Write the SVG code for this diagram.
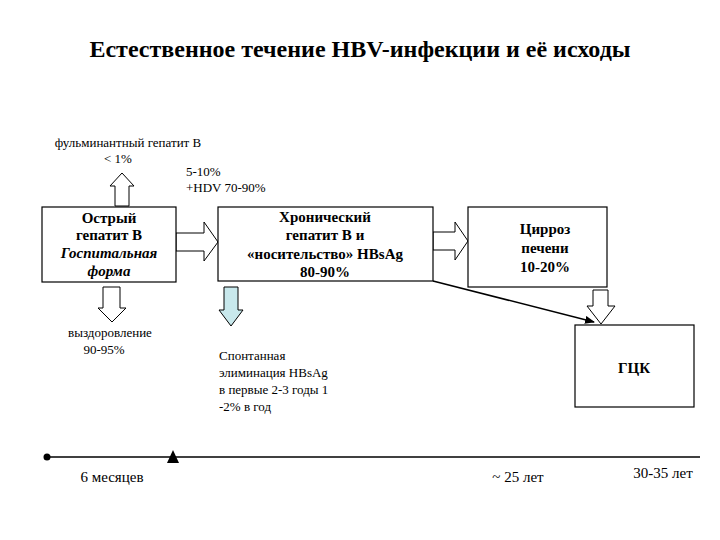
<svg xmlns="http://www.w3.org/2000/svg" width="720" height="540" viewBox="0 0 720 540" font-family="'Liberation Serif','Times New Roman','DejaVu Serif',serif">
<style>
text{fill:#000}
.box{fill:#fff;stroke:#000;stroke-width:1.2}
.ba{fill:#fff;stroke:#000;stroke-width:1}
.b{font-weight:bold;font-size:15px}
.n{font-size:13px}
</style>
<defs><marker id="ah" markerWidth="10" markerHeight="8" refX="9" refY="4" orient="auto" markerUnits="userSpaceOnUse"><path d="M0,0L10,4L0,8z" fill="#000"/></marker></defs>
<rect width="720" height="540" fill="#fff"/>
<text x="360" y="57" text-anchor="middle" font-size="24" font-weight="bold">Естественное течение HBV-инфекции и её исходы</text>
<g id="connectors">
<path class="ba" d="M115,206V186H110L122,173L134,186H129V206Z"/>
<path class="ba" d="M176,233H204V222L218,242L204,261V251H176Z"/>
<path class="ba" d="M433,232H455V222L468,241L455,260V250H433Z"/>
<path class="ba" d="M103,287H120V308H126L112,322L98,308H103Z"/>
<path d="M224,287H238V310H243L231,326L219,310H224Z" fill="#c8e8ec" stroke="#000"/>
<path class="ba" d="M593,290H608V306H615L601,324L587,306H593Z"/>
<line x1="433" y1="281" x2="594" y2="322" stroke="#000" stroke-width="1.5" marker-end="url(#ah)"/>
</g>
<g id="fulminant"><text class="n" x="128" y="147" text-anchor="middle">фульминантный гепатит В</text><text class="n" x="118" y="163" text-anchor="middle">&lt; 1%</text></g>
<g id="hdv"><text class="n" x="186" y="176">5-10%</text><text class="n" x="186" y="192">+HDV 70-90%</text></g>
<g id="acute"><rect class="box" x="42" y="207" width="134" height="75"/>
<text class="b" x="109" y="223" text-anchor="middle">Острый</text><text class="b" x="109" y="240" text-anchor="middle">гепатит В</text>
<text class="b" x="109" y="258" text-anchor="middle" font-style="italic">Госпитальная</text><text class="b" x="109" y="276" text-anchor="middle" font-style="italic">форма</text></g>
<g id="chronic"><rect class="box" x="218" y="207" width="215" height="74"/>
<text class="b" x="325" y="222" text-anchor="middle">Хронический</text><text class="b" x="325" y="240" text-anchor="middle">гепатит В и</text>
<text class="b" x="325" y="259" text-anchor="middle">«носительство» HBsAg</text><text class="b" x="325" y="277" text-anchor="middle">80-90%</text></g>
<g id="cirrhosis"><rect class="box" x="468" y="207" width="139" height="80"/>
<text class="b" x="545" y="234" text-anchor="middle">Цирроз</text><text class="b" x="545" y="253" text-anchor="middle">печени</text><text class="b" x="545" y="272" text-anchor="middle">10-20%</text></g>
<g id="hcc"><rect class="box" x="575" y="325" width="119" height="82"/><text class="b" x="634" y="373" text-anchor="middle">ГЦК</text></g>
<g id="recovery"><text class="n" x="110" y="337" text-anchor="middle">выздоровление</text><text class="n" x="104" y="354" text-anchor="middle">90-95%</text></g>
<g id="elim"><text class="n" x="219" y="360">Спонтанная</text><text class="n" x="219" y="377">элиминация HBsAg</text><text class="n" x="219" y="394">в первые 2-3 годы 1</text><text class="n" x="219" y="411">-2% в год</text></g>
<g id="timeline"><line x1="47" y1="457" x2="700" y2="457" stroke="#000" stroke-width="1.5"/><circle cx="47" cy="457" r="3.5"/><path d="M167,463L173,450L179,463Z"/>
<text x="112" y="482" font-size="15" text-anchor="middle">6 месяцев</text><text x="518" y="482" font-size="15" text-anchor="middle">~ 25 лет</text><text x="663" y="478" font-size="15" text-anchor="middle">30-35 лет</text></g>
</svg>
